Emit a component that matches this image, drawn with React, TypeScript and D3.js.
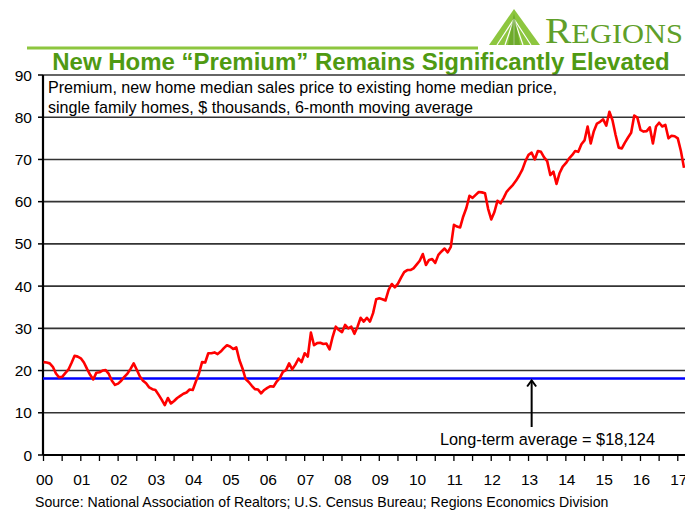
import React from "react";
import * as d3 from "d3";

const premium: number[] = [
  22.0, 21.9, 21.7, 20.9, 19.3, 18.4, 18.5, 19.4, 20.2, 21.8, 23.5, 23.3,
  22.9, 21.9, 20.4, 19.0, 17.9, 19.5, 19.6, 20.0, 20.1, 19.2, 17.6, 16.6,
  16.9, 17.6, 18.5, 19.3, 20.4, 21.7, 20.2, 18.6, 17.6, 17.0, 16.0, 15.6,
  15.4, 14.3, 13.1, 11.8, 13.5, 12.2, 12.8, 13.5, 14.0, 14.5, 14.8, 15.5,
  15.4, 17.4, 19.3, 22.0, 21.9, 24.1, 24.1, 24.3, 23.9, 24.5, 25.3, 26.0,
  25.7, 25.1, 25.5, 22.5, 20.5, 18.0, 17.3, 16.4, 15.6, 15.5, 14.6, 15.4,
  15.9, 16.3, 16.2, 17.4, 18.2, 19.7, 20.1, 21.7, 20.3, 21.4, 22.8, 22.0,
  24.1, 23.3, 29.0, 26.0, 26.5, 26.6, 26.3, 26.4, 25.0, 28.0, 30.4, 29.6,
  29.1, 30.8, 30.0, 30.4, 28.7, 30.4, 32.5, 31.6, 32.5, 31.6, 33.6, 36.9,
  37.1, 36.9, 36.6, 39.1, 40.5, 39.7, 40.6, 42.0, 43.3, 43.8, 43.8, 44.2,
  45.1, 46.0, 47.6, 45.0, 46.2, 46.4, 45.5, 47.4, 48.2, 48.9, 48.0, 49.3,
  54.5, 54.1, 53.9, 56.5, 58.5, 61.4, 60.9, 61.6, 62.3, 62.2, 62.0, 58.3,
  55.8, 57.5, 60.2, 59.6, 60.9, 62.4, 63.2, 64.0, 65.0, 66.2, 67.6, 69.6,
  71.1, 71.6, 70.0, 72.0, 71.8, 70.5, 69.6, 66.3, 67.1, 64.2, 66.8, 68.3,
  69.1, 70.2, 71.0, 72.0, 71.8, 73.6, 74.5, 77.8, 73.8, 76.7, 78.5, 78.9,
  79.5, 78.0, 81.3, 79.3, 75.8, 72.8, 72.6, 74.0, 75.2, 76.3, 80.4, 79.9,
  77.0, 76.6, 76.7, 77.6, 73.8, 77.8, 78.7, 77.8, 78.2, 75.0, 75.6, 75.5,
  75.0, 72.0, 68.0,
];

const yearLabels: string[] = [
  "00", "01", "02", "03", "04", "05", "06", "07", "08",
  "09", "10", "11", "12", "13", "14", "15", "16", "17",
];

const yTicks: number[] = [0, 10, 20, 30, 40, 50, 60, 70, 80, 90];

const longTermAverage = 18.124;
const arrowMonth = 157;

const title = "New Home \u201CPremium\u201D Remains Significantly Elevated";
const subtitle1 = "Premium, new home median sales price to existing home median price,";
const subtitle2 = "single family homes, $ thousands, 6-month moving average";
const annotation = "Long-term average = $18,124";
const source =
  "Source: National Association of Realtors; U.S. Census Bureau; Regions Economics Division";

export default function App() {
  const W = 685;
  const H = 511;
  const x = d3.scaleLinear().domain([0, premium.length - 1]).range([43.5, 684]);
  const y = d3.scaleLinear().domain([0, 90]).range([455, 75]);
  const line = d3
    .line<number>()
    .x((_, i) => x(i))
    .y((d) => y(d));

  const halfYearTicks = d3.range(0, premium.length, 6);
  const font = "Arial, 'Liberation Sans', sans-serif";
  const ay = y(longTermAverage);
  const ax = x(arrowMonth);

  const apex: [number, number] = [514, 9];
  const baseY = 45;
  const baseXs = [489, 497, 505, 514, 523, 531, 540];

  return (
    <svg
      width={W}
      height={H}
      style={{ position: "absolute", left: 0, top: 0, background: "#fff" }}
      fontFamily={font}
    >
      <rect width={W} height={H} fill="#fff" />
      <line x1={27} x2={478} y1={48} y2={48} stroke="#8dc63f" strokeWidth={3} />
      <g>
        <polygon
          points={`${apex[0]},${apex[1]} ${baseXs[0]},${baseY} ${baseXs[6]},${baseY}`}
          fill="#8dc63f"
        />
        {baseXs.slice(1, 6).map((bx, i) => (
          <line
            key={i}
            x1={apex[0]}
            y1={apex[1] + 10}
            x2={bx}
            y2={baseY}
            stroke="#fff"
            strokeWidth={1.2}
          />
        ))}
        <polygon
          points={`${apex[0]},${apex[1] + 4} ${apex[0] - 6},${baseY} ${apex[0] + 6},${baseY}`}
          fill="#5a9a1e"
          opacity={0.6}
        />
      </g>
      <text
        x={545}
        y={43}
        fill="#5f9f2a"
        fontFamily="'Liberation Serif', 'DejaVu Serif', serif"
        textLength={138}
        lengthAdjust="spacingAndGlyphs"
      >
        <tspan fontSize={35}>R</tspan>
        <tspan fontSize={27}>EGIONS</tspan>
      </text>
      <text
        x={361}
        y={70}
        textAnchor="middle"
        fontSize={24}
        fontWeight="bold"
        fill="#4f9a12"
      >
        {title}
      </text>

      {yTicks.slice(1).map((t) => (
        <line
          key={t}
          x1={43}
          x2={W}
          y1={y(t)}
          y2={y(t)}
          stroke="#333"
          strokeWidth={1.6}
        />
      ))}
      {yTicks.map((t) => (
        <g key={"yt" + t}>
          <line x1={38} x2={43} y1={y(t)} y2={y(t)} stroke="#000" strokeWidth={1.5} />
          <text x={32} y={y(t) + 5.5} textAnchor="end" fontSize={15.5} fill="#000">
            {t}
          </text>
        </g>
      ))}

      <line x1={43} x2={43} y1={y(90)} y2={y(0)} stroke="#000" strokeWidth={2.2} />
      <line x1={43} x2={W} y1={y(0)} y2={y(0)} stroke="#000" strokeWidth={2} />
      {halfYearTicks.map((m) => (
        <line
          key={"xt" + m}
          x1={x(m)}
          x2={x(m)}
          y1={y(0)}
          y2={y(0) + 6}
          stroke="#000"
          strokeWidth={1.3}
        />
      ))}
      {yearLabels.map((lab, i) => (
        <text
          key={lab}
          x={x(i * 12) + 1}
          y={485}
          textAnchor="middle"
          fontSize={15.5}
          fill="#000"
        >
          {lab}
        </text>
      ))}

      <line x1={43} x2={W} y1={ay} y2={ay} stroke="#0000ff" strokeWidth={2.5} />

      <path
        d={line(premium) || ""}
        fill="none"
        stroke="#ff0000"
        strokeWidth={2.6}
        strokeLinejoin="round"
      />

      <text x={48} y={93} fontSize={16.1} fill="#000">
        {subtitle1}
      </text>
      <text x={48} y={112.5} fontSize={16.1} fill="#000">
        {subtitle2}
      </text>

      <line x1={ax} x2={ax} y1={427} y2={ay + 2} stroke="#000" strokeWidth={2} />
      <polyline
        points={`${ax - 4.5},${ay + 8} ${ax},${ay + 2} ${ax + 4.5},${ay + 8}`}
        fill="none"
        stroke="#000"
        strokeWidth={2}
      />
      <text x={440} y={445} fontSize={16.3} fill="#000">
        {annotation}
      </text>

      <text x={35} y={507} fontSize={14.1} fill="#000">
        {source}
      </text>
    </svg>
  );
}
